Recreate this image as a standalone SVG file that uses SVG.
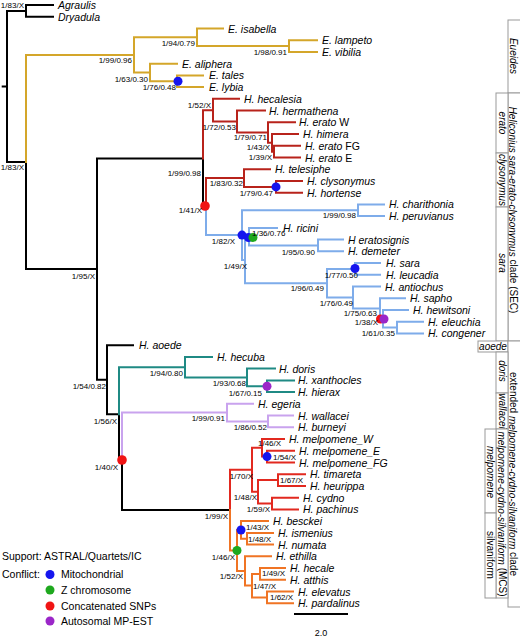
<svg xmlns="http://www.w3.org/2000/svg" width="520" height="639" viewBox="0 0 520 639">
<style>
.br{fill:none;stroke-width:2;stroke-linecap:square}
.k{stroke:#000}.gd{stroke:#d4a62a}.dr{stroke:#b8231b}.bl{stroke:#7eacea}.tl{stroke:#1f8a84}.lv{stroke:#c9a3ee}.rd{stroke:#e2291f}.or{stroke:#f07424}
.sp{font-family:"Liberation Sans",Arial,sans-serif;font-size:10.5px;font-style:italic;fill:#000}
.up{font-style:normal}
.s{font-family:"Liberation Sans",Arial,sans-serif;font-size:8px;fill:#000}
.e{text-anchor:end}
.lg{font-family:"Liberation Sans",Arial,sans-serif;font-size:10.5px;fill:#000}
.bx{fill:#fff;stroke:#999;stroke-width:1}
.bt{font-family:"Liberation Sans",Arial,sans-serif;font-size:10px;fill:#000;text-anchor:middle;dominant-baseline:central}
.it{font-style:italic}
.cb{fill:#1515ee}.cg{fill:#1ea81e}.cr{fill:#f01414}.cp{fill:#9b26c8}
</style>
<g id="connectors">
<path class="br k" d="M2.7,86.5H7 M7,10.9V162 M7,10.9H26 M26,5V16.7 M26,5H53 M26,16.7H53 M7,162H26 M26,162V269.1 M26,269.1H97 M97,158.4V379.8 M97,158.4H203 M203,158.4V206.6 M203,206.6H206 M97,379.8H107 M107,345.2V414.3 M107,345.2H133 M107,414.3H119 M119,414.3V461.4 M119,461.4H122 M122,461.4V510.1 M122,510.1H230"/>
<path class="br gd" d="M26,54.9V162 M26,54.9H134 M134,37.3V72.5 M134,37.3H197 M197,28.5V46.1 M197,28.5H223 M197,46.1H289 M289,40.2V51.9 M289,40.2H317 M289,51.9H317 M134,72.5H150 M150,63.7V81.3 M150,63.7H177 M150,81.3H177 M177,75.4V87.1 M177,75.4H203 M177,87.1H203"/>
<path class="br dr" d="M203,110.2V158.4 M203,110.2H213 M213,98.8V121.6 M213,98.8H239 M213,121.6H237 M237,110.6V132.6 M237,110.6H265 M237,132.6H268 M268,122.3V142.8 M268,122.3H295 M268,142.8H272 M272,134V151.7 M272,134H298 M272,151.7H274 M274,145.8V157.5 M274,145.8H300 M274,157.5H300 M206,178V206.6 M206,178H244 M244,169.2V186.9 M244,169.2H270 M244,186.9H276 M276,181V192.7 M276,181H302 M276,192.7H302"/>
<path class="br bl" d="M206,206.6V235.1 M206,235.1H242 M242,210.3V260 M242,210.3H358 M358,204.4V216.1 M358,204.4H384 M358,216.1H384 M242,260H245 M245,236.7V283.3 M245,236.7H249 M249,227.9V245.5 M249,227.9H277 M249,245.5H318 M318,239.6V251.3 M318,239.6H343 M318,251.3H343 M245,283.3H327 M327,269V297.5 M327,269H355 M355,263.1V274.8 M355,263.1H380 M355,274.8H380 M327,297.5H353 M353,286.5V308.6 M353,286.5H380 M353,308.6H380 M380,298.3V318.8 M380,298.3H405 M380,318.8H383 M383,310V327.6 M383,310H408 M383,327.6H397 M397,321.7V333.4 M397,321.7H423 M397,333.4H423"/>
<path class="br tl" d="M119,367.2V414.3 M119,367.2H185 M185,356.9V377.4 M185,356.9H212 M185,377.4H247 M247,368.6V386.3 M247,368.6H275 M247,386.3H267 M267,380.4V392.1 M267,380.4H294 M267,392.1H294"/>
<path class="br lv" d="M122,412.6V461.4 M122,412.6H227 M227,403.8V421.5 M227,403.8H253 M227,421.5H268 M268,415.6V427.3 M268,415.6H293 M268,427.3H293"/>
<path class="br rd" d="M230,469.8V510.1 M230,469.8H252 M252,447.8V491.8 M252,447.8H262 M262,439V456.6 M262,439H284 M262,456.6H267 M267,450.7V462.5 M267,450.7H294 M267,462.5H294 M252,491.8H258 M258,480.1V503.6 M258,480.1H278 M278,474.2V485.9 M278,474.2H305 M278,485.9H305 M258,503.6H272 M272,497.7V509.4 M272,497.7H298 M272,509.4H298"/>
<path class="br or" d="M230,510.1V550.5 M230,550.5H237 M237,530V571 M237,530H241 M241,521.1V538.8 M241,521.1H268 M241,538.8H247 M247,532.9V544.6 M247,532.9H273 M247,544.6H273 M237,571H245 M245,556.3V585.6 M245,556.3H271 M245,585.6H252 M252,573.9V597.4 M252,573.9H260 M260,568V579.8 M260,568H285 M260,579.8H285 M252,597.4H267 M267,591.5V603.2 M267,591.5H293 M267,603.2H293"/>
</g>
<g id="conflict-markers">
<circle class="cb" cx="178" cy="81.3" r="4.5"/>
<circle class="cr" cx="205" cy="206" r="4.8"/>
<circle class="cb" cx="276" cy="186.9" r="4.5"/>
<circle class="cb" cx="242" cy="235.1" r="4.5"/>
<circle class="cb" cx="248.5" cy="237.5" r="4.5"/>
<circle class="cg" cx="253" cy="237.5" r="4.5"/>
<circle class="cb" cx="355" cy="268.5" r="4.5"/>
<circle class="cr" cx="380.5" cy="319" r="4.5"/>
<circle class="cp" cx="384" cy="319" r="4.5"/>
<circle class="cp" cx="267" cy="386.3" r="4.5"/>
<circle class="cr" cx="122" cy="460" r="4.8"/>
<circle class="cb" cx="267" cy="456.6" r="4.5"/>
<circle class="cb" cx="241" cy="530" r="4.5"/>
<circle class="cg" cx="237" cy="550.5" r="4.5"/>
</g>
<g id="taxa">
<text class="sp" x="58" y="9">Agraulis</text>
<text class="sp" x="58" y="20.7">Dryadula</text>
<text class="sp" x="228" y="32.5">E. isabella</text>
<text class="sp" x="322" y="44.2">E. lampeto</text>
<text class="sp" x="322" y="55.9">E. vibilia</text>
<text class="sp" x="182" y="67.7">E. aliphera</text>
<text class="sp" x="209" y="79.4">E. tales</text>
<text class="sp" x="209" y="91.1">E. lybia</text>
<text class="sp" x="244" y="102.8">H. hecalesia</text>
<text class="sp" x="269" y="114.6">H. hermathena</text>
<text class="sp" x="299" y="126.3">H. erato <tspan class="up">W</tspan></text>
<text class="sp" x="303" y="138">H. himera</text>
<text class="sp" x="305" y="149.8">H. erato <tspan class="up">FG</tspan></text>
<text class="sp" x="305" y="161.5">H. erato <tspan class="up">E</tspan></text>
<text class="sp" x="275" y="173.2">H. telesiphe</text>
<text class="sp" x="307" y="185">H. clysonymus</text>
<text class="sp" x="307" y="196.7">H. hortense</text>
<text class="sp" x="389" y="208.4">H. charithonia</text>
<text class="sp" x="389" y="220.1">H. peruvianus</text>
<text class="sp" x="283" y="231.9">H. ricini</text>
<text class="sp" x="348" y="243.6">H eratosignis</text>
<text class="sp" x="348" y="255.3">H. demeter</text>
<text class="sp" x="386" y="267.1">H. sara</text>
<text class="sp" x="386" y="278.8">H. leucadia</text>
<text class="sp" x="385" y="290.5">H. antiochus</text>
<text class="sp" x="410" y="302.3">H. sapho</text>
<text class="sp" x="413" y="314">H. hewitsoni</text>
<text class="sp" x="428" y="325.7">H. eleuchia</text>
<text class="sp" x="428" y="337.4">H. congener</text>
<text class="sp" x="139" y="349.2">H. aoede</text>
<text class="sp" x="217" y="360.9">H. hecuba</text>
<text class="sp" x="279" y="372.6">H. doris</text>
<text class="sp" x="298" y="384.4">H. xanthocles</text>
<text class="sp" x="298" y="396.1">H. hierax</text>
<text class="sp" x="258" y="407.8">H. egeria</text>
<text class="sp" x="298" y="419.6">H. wallacei</text>
<text class="sp" x="298" y="431.3">H. burneyi</text>
<text class="sp" x="289" y="443">H. melpomene_W</text>
<text class="sp" x="299" y="454.7">H. melpomene_E</text>
<text class="sp" x="299" y="466.5">H. melpomene_FG</text>
<text class="sp" x="310" y="478.2">H. timareta</text>
<text class="sp" x="310" y="489.9">H. heurippa</text>
<text class="sp" x="303" y="501.7">H. cydno</text>
<text class="sp" x="303" y="513.4">H. pachinus</text>
<text class="sp" x="273" y="525.1">H. besckei</text>
<text class="sp" x="278" y="536.9">H. ismenius</text>
<text class="sp" x="278" y="548.6">H. numata</text>
<text class="sp" x="276" y="560.3">H. ethilla</text>
<text class="sp" x="290" y="572">H. hecale</text>
<text class="sp" x="290" y="583.8">H. atthis</text>
<text class="sp" x="298" y="595.5">H. elevatus</text>
<text class="sp" x="298" y="607.2">H. pardalinus</text>
</g>
<g id="support">
<text class="s e" x="24" y="8">1/83/X</text>
<text class="s e" x="24" y="170">1/83/X</text>
<text class="s e" x="132" y="63">1/99/0.96</text>
<text class="s e" x="195" y="46">1/94/0.79</text>
<text class="s e" x="287" y="55">1/98/0.91</text>
<text class="s e" x="148" y="82">1/63/0.30</text>
<text class="s e" x="176" y="90">1/76/0.48</text>
<text class="s e" x="211" y="108">1/52/X</text>
<text class="s e" x="236" y="130">1/72/0.53</text>
<text class="s e" x="267" y="140">1/79/0.71</text>
<text class="s e" x="270" y="150">1/43/X</text>
<text class="s e" x="272" y="160">1/39/X</text>
<text class="s e" x="201" y="176">1/99/0.98</text>
<text class="s e" x="243" y="186">1/83/0.32</text>
<text class="s e" x="273" y="196">1/79/0.47</text>
<text class="s e" x="202" y="213">1/41/X</text>
<text class="s e" x="356" y="218">1/99/0.98</text>
<text class="s e" x="235" y="244">1/82/X</text>
<text class="s" x="252" y="236">1/36/0.76</text>
<text class="s e" x="315" y="255">1/95/0.90</text>
<text class="s e" x="247" y="269">1/49/X</text>
<text class="s e" x="358" y="278">1/77/0.50</text>
<text class="s e" x="324" y="291">1/96/0.49</text>
<text class="s e" x="353" y="306">1/76/0.49</text>
<text class="s e" x="377" y="316">1/75/0.63</text>
<text class="s e" x="378" y="325">1/38/X</text>
<text class="s e" x="395" y="336">1/61/0.35</text>
<text class="s e" x="95" y="279">1/95/X</text>
<text class="s e" x="106" y="389">1/54/0.82</text>
<text class="s e" x="183" y="376">1/94/0.80</text>
<text class="s e" x="246" y="386">1/93/0.68</text>
<text class="s e" x="262" y="396">1/67/0.15</text>
<text class="s e" x="117" y="424">1/56/X</text>
<text class="s e" x="225" y="421">1/99/0.91</text>
<text class="s e" x="267" y="430">1/86/0.52</text>
<text class="s e" x="118" y="470">1/40/X</text>
<text class="s e" x="228" y="519">1/99/X</text>
<text class="s" x="258" y="446">1/46/X</text>
<text class="s" x="273" y="460">1/54/X</text>
<text class="s e" x="253" y="479">1/70/X</text>
<text class="s" x="280" y="483">1/67/X</text>
<text class="s e" x="257" y="500">1/48/X</text>
<text class="s e" x="270" y="512">1/59/X</text>
<text class="s" x="246" y="530">1/43/X</text>
<text class="s" x="248" y="542">1/48/X</text>
<text class="s e" x="235" y="560">1/46/X</text>
<text class="s e" x="243" y="579">1/52/X</text>
<text class="s" x="262" y="576">1/49/X</text>
<text class="s" x="253" y="589">1/47/X</text>
<text class="s" x="270" y="600">1/62/X</text>
</g>
<g id="clade-boxes">
<rect class="bx" x="508" y="20" width="16" height="73"/>
<text class="bt it" transform="translate(513,56) rotate(90)">Eueides</text>
<rect class="bx" x="508" y="93" width="16" height="248"/>
<text class="bt" transform="translate(513,210) rotate(90)"><tspan class="it">Heliconius sara-erato-clysonymus</tspan> clade (SEC)</text>
<rect class="bx" x="496" y="93" width="12" height="60"/>
<text class="bt it" transform="translate(502,123) rotate(90)">erato</text>
<rect class="bx" x="496" y="153" width="12" height="54"/>
<text class="bt it" transform="translate(502,180) rotate(90)">clysonymus</text>
<rect class="bx" x="496" y="207" width="12" height="134"/>
<text class="bt it" transform="translate(502,263) rotate(90)">sara</text>
<rect class="bx" x="478" y="341" width="30" height="11"/>
<text class="bt it" x="493" y="346.5">aoede</text>
<rect class="bx" x="508" y="341" width="16" height="266"/>
<text class="bt" transform="translate(513,474) rotate(90)">extended <tspan class="it">melpomene-cydno-silvaniform</tspan> clade</text>
<rect class="bx" x="496" y="352" width="12" height="41"/>
<text class="bt it" transform="translate(502,371) rotate(90)">doris</text>
<rect class="bx" x="496" y="393" width="12" height="36"/>
<text class="bt it" transform="translate(502,411) rotate(90)">wallacei</text>
<rect class="bx" x="496" y="429" width="12" height="169"/>
<text class="bt" transform="translate(502,514) rotate(90)"><tspan class="it">melpomene-cydno-silvaniform</tspan> (MCS)</text>
<rect class="bx" x="485" y="429" width="11" height="84"/>
<text class="bt it" transform="translate(490.5,472) rotate(90)">melpomene</text>
<rect class="bx" x="485" y="513" width="11" height="85"/>
<text class="bt" transform="translate(490.5,555) rotate(90)">silvaniform</text>
</g>
<g id="legend">
<text class="lg" x="2" y="560">Support: ASTRAL/Quartets/IC</text>
<text class="lg" x="2" y="578">Conflict:</text>
<circle class="cb" cx="50" cy="574.5" r="4.5"/>
<circle class="cg" cx="50" cy="590" r="4.5"/>
<circle class="cr" cx="50" cy="606" r="4.5"/>
<circle class="cp" cx="50" cy="621" r="4.5"/>
<text class="lg" x="61" y="578">Mitochondrial</text>
<text class="lg" x="61" y="594">Z chromosome</text>
<text class="lg" x="61" y="610">Concatenated SNPs</text>
<text class="lg" x="61" y="625">Autosomal MP-EST</text>
</g>
<g id="scale-bar">
<path d="M294,614H348" stroke="#000" stroke-width="2"/>
<text class="lg" x="321" y="636" text-anchor="middle" style="font-size:9px">2.0</text>
</g>
</svg>
